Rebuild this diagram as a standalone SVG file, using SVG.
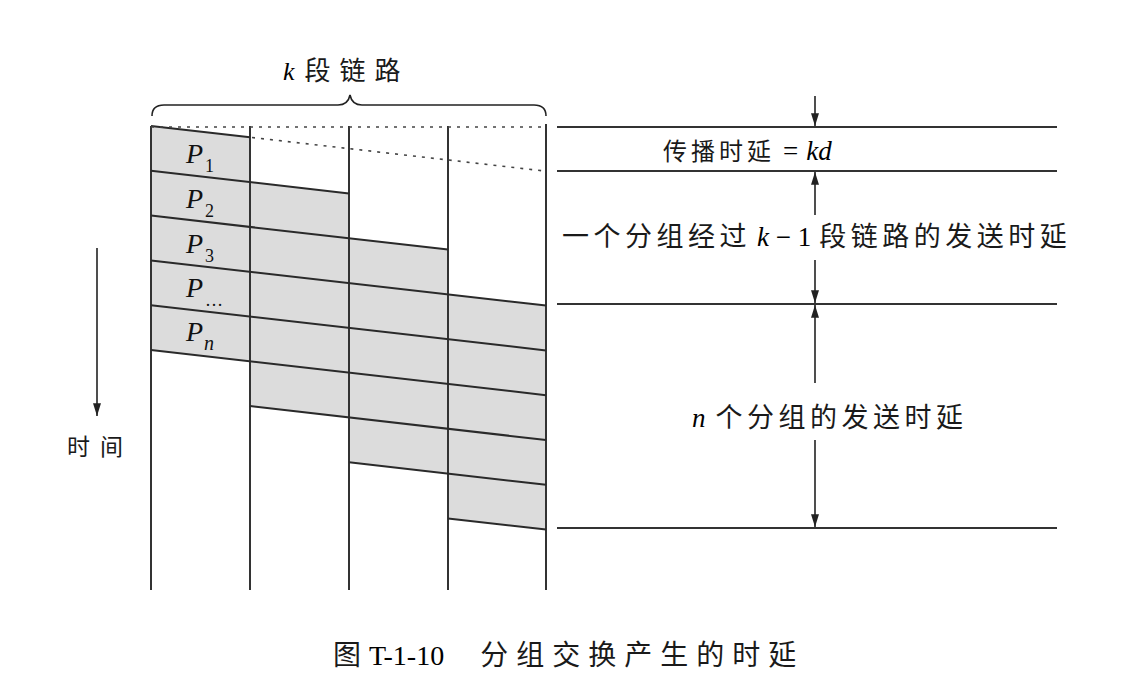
<svg xmlns="http://www.w3.org/2000/svg" width="1143" height="685" viewBox="0 0 1143 685">
<style>
.ln{stroke:#2a2a2a;stroke-width:2;fill:none}
.dot{stroke:#444;stroke-width:1.6;fill:none;stroke-dasharray:3 6}
.fill{fill:#dcdcdc;stroke:none}
.vl{stroke:#333;stroke-width:2;fill:none}
.pl{font-family:"Liberation Serif",serif;font-style:italic;font-size:28px;fill:#111}
.sub{font-family:"Liberation Serif",serif;font-style:normal;font-size:18px;fill:#111}
.cjk{font-family:"Noto Sans CJK SC",sans-serif;font-style:normal;fill:#1a1a1a}
.it{font-family:"Liberation Serif",serif;font-style:italic}
.rm{font-family:"Liberation Serif",serif;font-style:normal}
.arr{stroke:#222;stroke-width:1.6;fill:none}
</style>
<defs>
<marker id="ahb" viewBox="0 0 16 10" refX="16" refY="5" markerWidth="14" markerHeight="8" orient="auto" markerUnits="userSpaceOnUse">
<path d="M0,0 L16,5 L0,10 z" fill="#222"/>
</marker>
</defs>
<rect width="1143" height="685" fill="#ffffff"/>

<g id="packets-fill">
<polygon class="fill" points="151,126 250,137.3 250,361.3 151,350"/>
<polygon class="fill" points="250,182.1 349,193.5 349,417.5 250,406.1"/>
<polygon class="fill" points="349,238.3 448,249.6 448,473.6 349,462.3"/>
<polygon class="fill" points="448,294.4 546,305.6 546,529.6 448,518.4"/>
</g>

<g id="links">
<line class="vl" x1="151" y1="126" x2="151" y2="590"/>
<line class="vl" x1="250" y1="126" x2="250" y2="590"/>
<line class="vl" x1="349" y1="126" x2="349" y2="590"/>
<line class="vl" x1="448" y1="126" x2="448" y2="590"/>
<line class="vl" x1="546" y1="124" x2="546" y2="590"/>
</g>

<g id="packet-lines">
<line class="ln" x1="151" y1="126" x2="250" y2="137.3"/>
<line class="ln" x1="151" y1="170.8" x2="349" y2="193.5"/>
<line class="ln" x1="151" y1="215.6" x2="448" y2="249.6"/>
<line class="ln" x1="151" y1="260.4" x2="546" y2="305.6"/>
<line class="ln" x1="151" y1="305.2" x2="546" y2="350.4"/>
<line class="ln" x1="151" y1="350" x2="546" y2="395.2"/>
<line class="ln" x1="250" y1="406.1" x2="546" y2="440"/>
<line class="ln" x1="349" y1="462.3" x2="546" y2="484.8"/>
<line class="ln" x1="448" y1="518.4" x2="546" y2="529.6"/>
<line class="dot" x1="151" y1="127" x2="546" y2="127"/>
<line class="dot" x1="252" y1="137.5" x2="546" y2="171.2"/>
</g>

<g id="brace">
<path class="arr" d="M152,116 Q152,105 164,105 L338,105 Q348,105 350,95 Q352,105 362,105 L534,105 Q546,105 546,116"/>
<text x="283" y="80" font-size="26"><tspan class="it">k</tspan><tspan class="cjk" dx="10" letter-spacing="9">段链路</tspan></text>
</g>

<g id="packet-labels">
<text class="pl" x="186" y="163">P<tspan class="sub" dx="2" dy="9">1</tspan></text>
<text class="pl" x="186" y="208">P<tspan class="sub" dx="2" dy="9">2</tspan></text>
<text class="pl" x="186" y="253">P<tspan class="sub" dx="2" dy="9">3</tspan></text>
<text class="pl" x="186" y="297">P<tspan class="sub" dx="2" dy="9">…</tspan></text>
<text class="pl" x="186" y="341">P<tspan font-size="20" dx="1" dy="9">n</tspan></text>
</g>

<g id="time-axis">
<line class="arr" x1="97" y1="248" x2="97" y2="416" marker-end="url(#ahb)"/>
<text class="cjk" x="67" y="455" font-size="23" letter-spacing="10">时间</text>
</g>

<g id="right-scale">
<line class="vl" x1="557" y1="127" x2="1057" y2="127"/>
<line class="vl" x1="557" y1="171" x2="1057" y2="171"/>
<line class="vl" x1="557" y1="304" x2="1057" y2="304"/>
<line class="vl" x1="557" y1="528" x2="1057" y2="528"/>
</g>

<g id="connectors">
<line class="arr" x1="815" y1="96" x2="815" y2="126" marker-end="url(#ahb)"/>
<line class="arr" x1="815" y1="215" x2="815" y2="172" marker-end="url(#ahb)"/>
<line class="arr" x1="815" y1="260" x2="815" y2="303" marker-end="url(#ahb)"/>
<line class="arr" x1="815" y1="383" x2="815" y2="305" marker-end="url(#ahb)"/>
<line class="arr" x1="815" y1="440" x2="815" y2="527" marker-end="url(#ahb)"/>
</g>

<g id="label-prop">
<rect x="660" y="134" width="195" height="32" fill="#ffffff"/>
<text x="663" y="160" font-size="24"><tspan class="cjk" letter-spacing="4">传播时延</tspan><tspan class="rm" font-size="27" dx="8">=</tspan><tspan class="it" font-size="27" dx="8">kd</tspan></text>
</g>
<g id="label-k1">
<text x="562" y="246" font-size="27"><tspan class="cjk" letter-spacing="4.5">一个分组经过</tspan><tspan class="it" dx="6">k</tspan><tspan class="rm"> − 1</tspan><tspan class="cjk" dx="8" letter-spacing="4.5">段链路的发送时延</tspan></text>
</g>
<g id="label-n">
<text x="692" y="427" font-size="27"><tspan class="it">n</tspan><tspan class="cjk" dx="10" letter-spacing="4.5">个分组的发送时延</tspan></text>
</g>

<g id="caption">
<text x="333" y="665" font-size="28"><tspan class="cjk">图</tspan><tspan class="rm" dx="8">T-1-10</tspan><tspan class="cjk" dx="36" letter-spacing="8">分组交换产生的时延</tspan></text>
</g>
</svg>
